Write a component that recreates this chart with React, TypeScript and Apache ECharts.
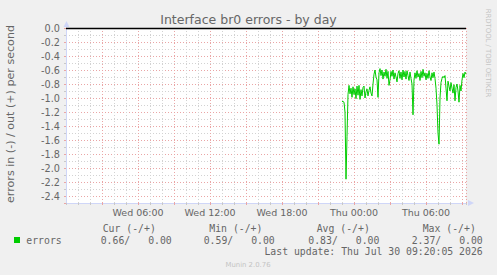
import React, { useEffect, useRef } from "react";
import * as echarts from "echarts";

// time axis in hours since Wed 00:00; window is 33.33 h (400 px at 5 min/px)
const axisStartHour = 0;
const axisEndHour = 33.333;
const seriesStartHour = 23; // first sample
const stepHours = 5 / 60; // 5-minute samples

// errors "in" (plotted negative), per second
const inErrors = [
  1.05, 1.05, 1.06, 1.2, 2.16, 1.55, 0.95, 0.82, 0.94, 0.86,
  0.99, 0.84, 0.95, 0.87, 1.01, 0.83, 0.96, 0.82, 1.02, 0.88,
  0.97, 0.85, 0.83, 1.0, 0.91, 0.87, 0.97, 0.89, 0.84, 0.93,
  0.97, 0.8, 0.66, 0.6, 0.7, 0.74, 0.99, 0.64, 0.58, 0.68,
  0.6, 0.73, 0.63, 0.69, 0.59, 0.72, 0.62, 0.82, 0.74, 0.62,
  0.69, 0.6, 0.73, 0.64, 0.7, 0.77, 0.65, 0.61, 0.72, 0.63,
  0.74, 0.6, 0.7, 0.62, 0.73, 0.61, 0.68, 0.75, 0.63, 0.72,
  0.8, 1.24, 0.74, 0.64, 0.72, 0.61, 0.7, 0.65, 0.75, 0.62,
  0.71, 0.59, 0.69, 0.64, 0.74, 0.65, 0.72, 0.61, 0.7, 0.75,
  0.64, 0.71, 0.63, 0.72, 0.86, 1.1, 1.5, 1.66, 1.0, 0.78,
  0.72, 0.69, 0.71, 0.68, 0.86, 1.04, 0.76, 0.83, 0.9, 0.78,
  0.86, 0.93, 0.81, 1.04, 0.85, 0.8, 0.9, 1.06, 0.82, 0.9,
  0.74, 0.65, 0.71, 0.63, 0.66,
];

const yTickStep = 0.2;
const yMinorStep = 0.1;
const yMaxMagnitude = 2.5;
const xMajorStep = 3;
const xMinorStep = 1;
const xLabelEvery = 6;
const dayNames = ["Wed", "Thu"];

const legendHeaders = ["Cur (-/+)", "Min (-/+)", "Avg (-/+)", "Max (-/+)"];
const legendIn = ["0.66/", "0.59/", "0.83/", "2.37/"];
const legendOut = ["0.00", "0.00", "0.00", "0.00"];
const lastUpdate = "Last update: Thu Jul 30 09:20:05 2026";

const FONT = "DejaVu Sans";
const MONO = "DejaVu Sans Mono";
const TXT = "#666666";
const AXIS = "#CFD6F8";
const GRID_MINOR = "#d2d2d2";
const GRID_MAJOR = "#eaa5a5";
const GREEN = "#00CC00";

export default function App() {
  const ref = useRef<HTMLDivElement>(null);
  useEffect(() => {
    if (!ref.current) return;
    const chart = echarts.init(ref.current, undefined, { renderer: "svg" });
    const data = inErrors.map((v, i) => [seriesStartHour + i * stepHours, v]);

    const xLabel = (v: number) => {
      if (v <= 0) return "";
      if (Math.abs(v / xLabelEvery - Math.round(v / xLabelEvery)) > 1e-6) return "";
      const h = Math.round(v);
      const day = dayNames[Math.floor(h / 24)];
      const hh = String(h % 24).padStart(2, "0");
      return `${day} ${hh}:00`;
    };
    const yLabel = (v: number) => {
      if (Math.abs(v / yTickStep - Math.round(v / yTickStep)) > 1e-6) return "";
      if (Math.abs(v) < 1e-9) return "0.0";
      return (-v).toFixed(1);
    };

    const colX = [100.7, 203.7, 308.3, 411.7];
    const headX = [102.7, 209.3, 316.7, 422.7];
    const cw = 5.93;

    const graphics: any[] = [
      {
        type: "text",
        x: 248.5,
        y: 19.5,
        style: {
          text: "Interface br0 errors - by day",
          font: `12.5px "${FONT}"`,
          fill: TXT,
          align: "center",
          verticalAlign: "middle",
        },
      },
      {
        type: "text",
        x: 10.5,
        y: 114,
        rotation: Math.PI / 2,
        style: {
          text: "errors in (-) / out (+) per second",
          font: `11.1px "${FONT}"`,
          fill: TXT,
          align: "center",
          verticalAlign: "middle",
        },
      },
      {
        type: "text",
        x: 488,
        y: 53,
        rotation: -Math.PI / 2,
        style: {
          text: "RRDTOOL / TOBI OETIKER",
          font: `6.9px "${FONT}"`,
          fill: "#c4c4c4",
          align: "center",
          verticalAlign: "middle",
        },
      },
      // axis arrows (decoration)
      {
        type: "polygon",
        z: 10,
        shape: { points: [[63.5, 27], [69.5, 27], [66.5, 21]] },
        style: { fill: AXIS },
      },
      {
        type: "polygon",
        z: 10,
        shape: { points: [[468, 200], [468, 206], [474, 203]] },
        style: { fill: AXIS },
      },
      {
        type: "rect",
        shape: { x: 14, y: 237, width: 6, height: 6 },
        style: { fill: GREEN },
      },
      {
        type: "text",
        x: 26.3,
        y: 240,
        style: { text: "errors", font: `9.8px "${MONO}"`, fill: TXT, verticalAlign: "middle" },
      },
      {
        type: "text",
        x: 482.7,
        y: 251.5,
        style: { text: lastUpdate, font: `9.8px "${MONO}"`, fill: TXT, align: "right", verticalAlign: "middle" },
      },
      {
        type: "text",
        x: 248,
        y: 264.5,
        style: { text: "Munin 2.0.76", font: `6.9px "${FONT}"`, fill: "#c4c4c4", align: "center", verticalAlign: "middle" },
      },
    ];
    legendHeaders.forEach((t, i) => {
      graphics.push({
        type: "text",
        x: headX[i],
        y: 228,
        style: { text: t, font: `9.8px "${MONO}"`, fill: TXT, verticalAlign: "middle" },
      });
      graphics.push({
        type: "text",
        x: colX[i],
        y: 240,
        style: { text: legendIn[i], font: `9.8px "${MONO}"`, fill: TXT, verticalAlign: "middle" },
      });
      graphics.push({
        type: "text",
        x: colX[i] + 8 * cw,
        y: 240,
        style: { text: legendOut[i], font: `9.8px "${MONO}"`, fill: TXT, verticalAlign: "middle" },
      });
    });

    const baseX = {
      type: "value",
      position: "bottom",
      min: axisStartHour,
      max: axisEndHour,
    };
    const baseY = {
      type: "value",
      position: "left",
      inverse: true,
      min: 0,
      max: yMaxMagnitude,
    };

    chart.setOption({
      animation: false,
      backgroundColor: "#F0F0F0",
      grid: {
        left: 66,
        right: 31,
        top: 28,
        height: 175,
        show: true,
        backgroundColor: "#FFFFFF",
        borderWidth: 0,
      },
      xAxis: [
        {
          ...baseX,
          interval: xMinorStep,
          axisLine: {
            show: true,
            onZero: false,
            lineStyle: { color: AXIS, width: 1 },
          },
          axisTick: { show: true, length: 2, lineStyle: { color: "#c8c8c8" } },
          axisLabel: { show: false },
          splitLine: { show: true, lineStyle: { color: GRID_MINOR, type: [1, 2], width: 1 } },
        },
        {
          ...baseX,
          interval: xMajorStep,
          axisLine: { show: false, onZero: false },
          axisTick: { show: true, length: 2, lineStyle: { color: GRID_MAJOR } },
          axisLabel: {
            show: true,
            formatter: xLabel,
            color: TXT,
            fontFamily: FONT,
            fontSize: 9.5,
            margin: 4,
            showMinLabel: false,
            showMaxLabel: false,
            hideOverlap: false,
          },
          splitLine: { show: true, lineStyle: { color: GRID_MAJOR, type: [1, 2], width: 1 } },
        },
      ],
      yAxis: [
        {
          ...baseY,
          interval: yMinorStep,
          axisLine: {
            show: true,
            onZero: false,
            lineStyle: { color: AXIS, width: 1 },
          },
          axisTick: { show: true, length: 2, lineStyle: { color: "#c8c8c8" } },
          axisLabel: { show: false },
          splitLine: { show: true, lineStyle: { color: GRID_MINOR, type: [1, 2], width: 1 } },
        },
        {
          ...baseY,
          interval: yTickStep,
          axisLine: { show: false, onZero: false },
          axisTick: { show: true, length: 2, lineStyle: { color: GRID_MAJOR } },
          axisLabel: {
            show: true,
            formatter: yLabel,
            color: TXT,
            fontFamily: FONT,
            fontSize: 9.7,
            margin: 6,
          },
          splitLine: { show: true, lineStyle: { color: GRID_MAJOR, type: [1, 2], width: 1 } },
        },
      ],
      series: [
        {
          type: "line",
          name: "errors",
          xAxisIndex: 1,
          yAxisIndex: 1,
          data,
          showSymbol: false,
          symbol: "none",
          lineStyle: { color: GREEN, width: 1 },
          markLine: {
            silent: true,
            symbol: "none",
            label: { show: false },
            lineStyle: { color: "#000000", type: "solid", width: 1.3 },
            data: [{ yAxis: 0 }],
          },
        },
      ],
      graphic: graphics,
    });
    return () => chart.dispose();
  }, []);
  return <div ref={ref} style={{ width: 497, height: 275, position: "absolute", left: 0, top: 0 }} />;
}
